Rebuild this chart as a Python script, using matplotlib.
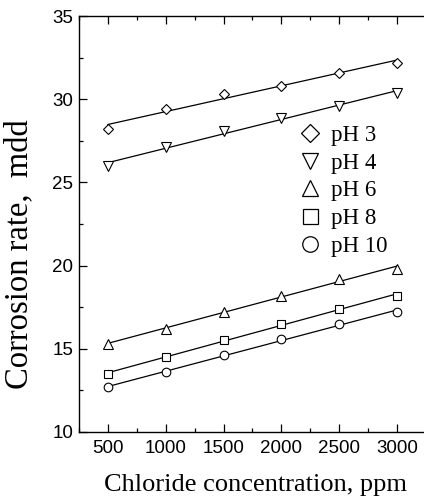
import numpy as np
import matplotlib
matplotlib.use("Agg")
import matplotlib.pyplot as plt
from matplotlib.ticker import MultipleLocator

chloride = [500, 1000, 1500, 2000, 2500, 3000]
ph3 = [28.2, 29.4, 30.3, 30.8, 31.6, 32.2]
ph4 = [26.0, 27.1, 28.1, 28.9, 29.6, 30.4]
ph6 = [15.3, 16.2, 17.2, 18.2, 19.2, 19.8]
ph8 = [13.5, 14.5, 15.5, 16.5, 17.4, 18.2]
ph10 = [12.7, 13.6, 14.6, 15.6, 16.5, 17.2]
labels = ["pH 3", "pH 4", "pH 6", "pH 8", "pH 10"]
markers = ["D", "v", "^", "s", "o"]

serif = "Liberation Serif"
sans = "Liberation Sans"

fig = plt.figure(figsize=(4.24, 5.01), dpi=100)
ax = fig.add_axes([79 / 424, 1 - 432 / 501, 352.7 / 424, 416 / 501])

x = np.array(chloride, dtype=float)
sizes = {"D": 5.0, "v": 6.5, "^": 6.5, "s": 6.0, "o": 6.2}
handles = []
for y, m, lab in zip([ph3, ph4, ph6, ph8, ph10], markers, labels):
    y = np.array(y)
    k, b = np.polyfit(x, y, 1)
    ax.plot(x, k * x + b, color="black", lw=0.9, zorder=2)
    ax.plot(x, y, linestyle="none", marker=m, ms=sizes[m], mfc="white",
            mec="black", mew=0.8, zorder=3)
    h, = ax.plot([], [], linestyle="none", marker=m, ms=sizes[m] * 1.8,
                 mfc="white", mec="black", mew=0.9, label=lab)
    handles.append(h)

ax.set_xlim(250, 3300)
ax.set_ylim(10, 35)
ax.xaxis.set_major_locator(MultipleLocator(500))
ax.xaxis.set_minor_locator(MultipleLocator(250))
ax.yaxis.set_major_locator(MultipleLocator(5))
ax.yaxis.set_minor_locator(MultipleLocator(2.5))
ax.tick_params(which="both", direction="in", top=True, right=True,
               width=0.9, labelsize=13.5)
ax.tick_params(axis="x", pad=6)
ax.tick_params(axis="y", pad=4)
ax.tick_params(which="major", length=6)
ax.tick_params(which="minor", length=3)
for lab in ax.get_xticklabels() + ax.get_yticklabels():
    lab.set_family(sans)
for s in ax.spines.values():
    s.set_linewidth(1.0)

ax.set_xlabel("Chloride concentration, ppm", family=serif, fontsize=19,
              labelpad=12)
ax.set_ylabel("Corrosion rate,  mdd", family=serif, fontsize=23.5)
ax.yaxis.set_label_coords(-0.128, 0.428)

ax.legend(handles=handles, loc="upper left", bbox_to_anchor=(0.59, 0.761),
          frameon=False, prop={"family": serif, "size": 16.5},
          handletextpad=0.3, labelspacing=0.3, borderaxespad=0,
          handlelength=1.2)

fig.savefig("out.png", dpi=100)
